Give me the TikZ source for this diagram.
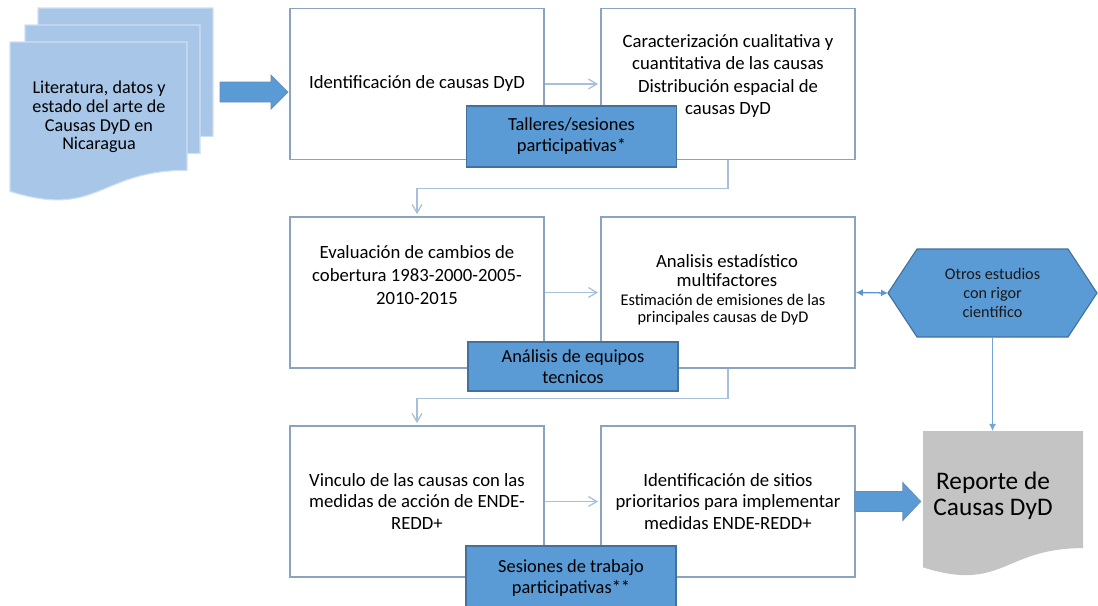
\documentclass[tikz,border=0pt]{standalone}
\usepackage{fontspec}
\setmainfont{Carlito}
\usepackage{xcolor}
\usepackage{tikz}
\usetikzlibrary{positioning,arrows.meta}

\definecolor{boxline}{HTML}{8BA3BE}
\definecolor{linkblue}{HTML}{A6C0DA}
\definecolor{teamblue}{HTML}{5B9BD5}
\definecolor{teamedge}{HTML}{41719C}
\definecolor{arrowblue}{HTML}{5B95CF}
\definecolor{docblue}{HTML}{A7C6E8}
\definecolor{docedge}{HTML}{CFE0F2}
\definecolor{repgray}{HTML}{C4C4C4}

\begin{document}
\begin{tikzpicture}[x=0.025cm, y=-0.025cm,
    step_box/.style={draw=boxline, line width=1.1pt, fill=white, minimum width=6.35cm,
        minimum height=3.775cm, inner sep=0pt, align=center,
        font=\fontsize{13.3}{15.2}\selectfont},
    step_text/.style={align=center, inner sep=0pt, font=\fontsize{13.3}{15.8}\selectfont},
    small_text/.style={align=center, inner sep=0pt, font=\fontsize{11.6}{12}\selectfont},
    team_box/.style={draw=teamedge, line width=0.8pt, fill=teamblue, minimum width=5.25cm,
        inner sep=1pt, align=center, font=\fontsize{13.1}{15}\selectfont},
    doc_page/.style={fill=docblue, draw=docedge, line width=0.8pt},
    thin_link/.style={draw=linkblue, line width=0.9pt, shorten >=1.5pt,
        -{Straight Barb[length=6pt, width=7pt]}},
    both_link/.style={draw=arrowblue, line width=0.9pt,
        {Latex[length=5pt, width=5pt]}-{Latex[length=5pt, width=5pt]}},
    down_link/.style={draw=arrowblue!85, line width=0.9pt, -{Latex[length=5pt, width=5pt]}},
    fat_arrow/.style={fill=teamblue, draw=teamedge!80, line width=0.5pt}]

\useasboundingbox (0,0) rectangle (1098,605);

% stack of source documents
\filldraw[doc_page] (38,8) -- (213,8) -- (213,136.3)
    .. controls (125.5,136.3) and (125.5,185.1) .. (38,157.4) -- cycle;
\filldraw[doc_page] (25,25) -- (200,25) -- (200,153.3)
    .. controls (112.5,153.3) and (112.5,202.1) .. (25,174.4) -- cycle;
\filldraw[doc_page] (10,42) -- (187,42) -- (187,170.3)
    .. controls (98.5,170.3) and (98.5,219.1) .. (10,191.4) -- cycle;
\node[align=center, inner sep=0pt, font=\fontsize{12.9}{13.2}\selectfont] (docs) at (99,117)
    {Literatura, datos y\\estado del arte de\\Causas DyD en\\Nicaragua};

% report and other studies
\fill[repgray] (923,431) -- (1083,431) -- (1083,548.1)
    .. controls (1003,548.1) and (1003,592.6) .. (923,567.4) -- cycle;
\node[align=center, inner sep=0pt, font=\fontsize{18}{18.5}\selectfont] (reporte) at (993,496)
    {Reporte de\\Causas DyD};
\filldraw[fill=teamblue, draw=teamedge, line width=0.8pt]
    (888,293) -- (917,249) -- (1068,249) -- (1097,293) -- (1068,337) -- (917,337) -- cycle;
\node[align=center, inner sep=0pt, minimum height=2.2cm, text=black!90,
    font=\fontsize{11.5}{13.5}\selectfont] (otros) at (992.5,293)
    {Otros estudios\\con rigor\\científico};

% main steps
\node[step_box] (step_1) at (417,84) {Identificación de causas DyD};
\node[step_box] (step_2) at (728,84) {};
\node[step_box] (step_3) at (417,292.5) {};
\node[step_box] (step_4) at (728,292.5) {};
\node[step_box] (step_5) at (417,501.5) {Vinculo de las causas con las\\medidas de acción de ENDE-\\REDD+};
\node[step_box] (step_6) at (728,501.5) {Identificación de sitios\\prioritarios para implementar\\medidas ENDE-REDD+};

\node[step_text] (step_2_txt) at (728,76)
    {Caracterización cualitativa y\\cuantitativa de las causas\\Distribución espacial de\\causas DyD};
\node[step_text, font=\fontsize{13.3}{16.3}\selectfont] (step_3_txt) at (417,275)
    {Evaluación de cambios de\\cobertura 1983-2000-2005-\\2010-2015};
\node[step_text, font=\fontsize{13.3}{13.5}\selectfont] (step_4_head) at (727,271)
    {Analisis estadístico\\multifactores};
\node[small_text] (step_4_txt) at (723,310)
    {Estimación de emisiones de las\\principales causas de DyD};

% working sessions
\node[team_box, minimum height=1.525cm] (team_1) at (571.5,136.5) {Talleres/sesiones\\participativas*};
\node[team_box, minimum height=1.225cm] (team_2) at (573,366.5) {Análisis de equipos\\tecnicos};
\node[team_box, minimum height=1.6cm] (team_3) at (571,578) {Sesiones de trabajo\\participativas**};

\coordinate (doc_r) at (220,92);
\coordinate (otros_w) at (888,293);
\coordinate (rep_n) at (992.5,431);

\filldraw[fat_arrow] (doc_r) ++(0,-10) -- ++(51,0) -- ++(0,-7) -- ++(17,17)
    -- ++(-17,17) -- ++(0,-7) -- ++(-51,0) -- cycle;
\draw[thin_link] (step_1.east) -- (step_2.west);
\draw[thin_link] (step_2.south) -- ++(0,28) -| (step_3.north);
\draw[thin_link] (step_3.east) -- (step_4.west);
\draw[both_link] (step_4.east) -- (otros_w);
\draw[thin_link] (step_4.south) -- ++(0,30) -| (step_5.north);
\draw[thin_link] (step_5.east) -- (step_6.west);
\filldraw[fat_arrow] (step_6.east) ++(-1,-10) -- ++(48,0) -- ++(0,-9) -- ++(18,19)
    -- ++(-18,19) -- ++(0,-9) -- ++(-48,0) -- cycle;
\draw[down_link] (otros.south) -- (rep_n);

\end{tikzpicture}
\end{document}
